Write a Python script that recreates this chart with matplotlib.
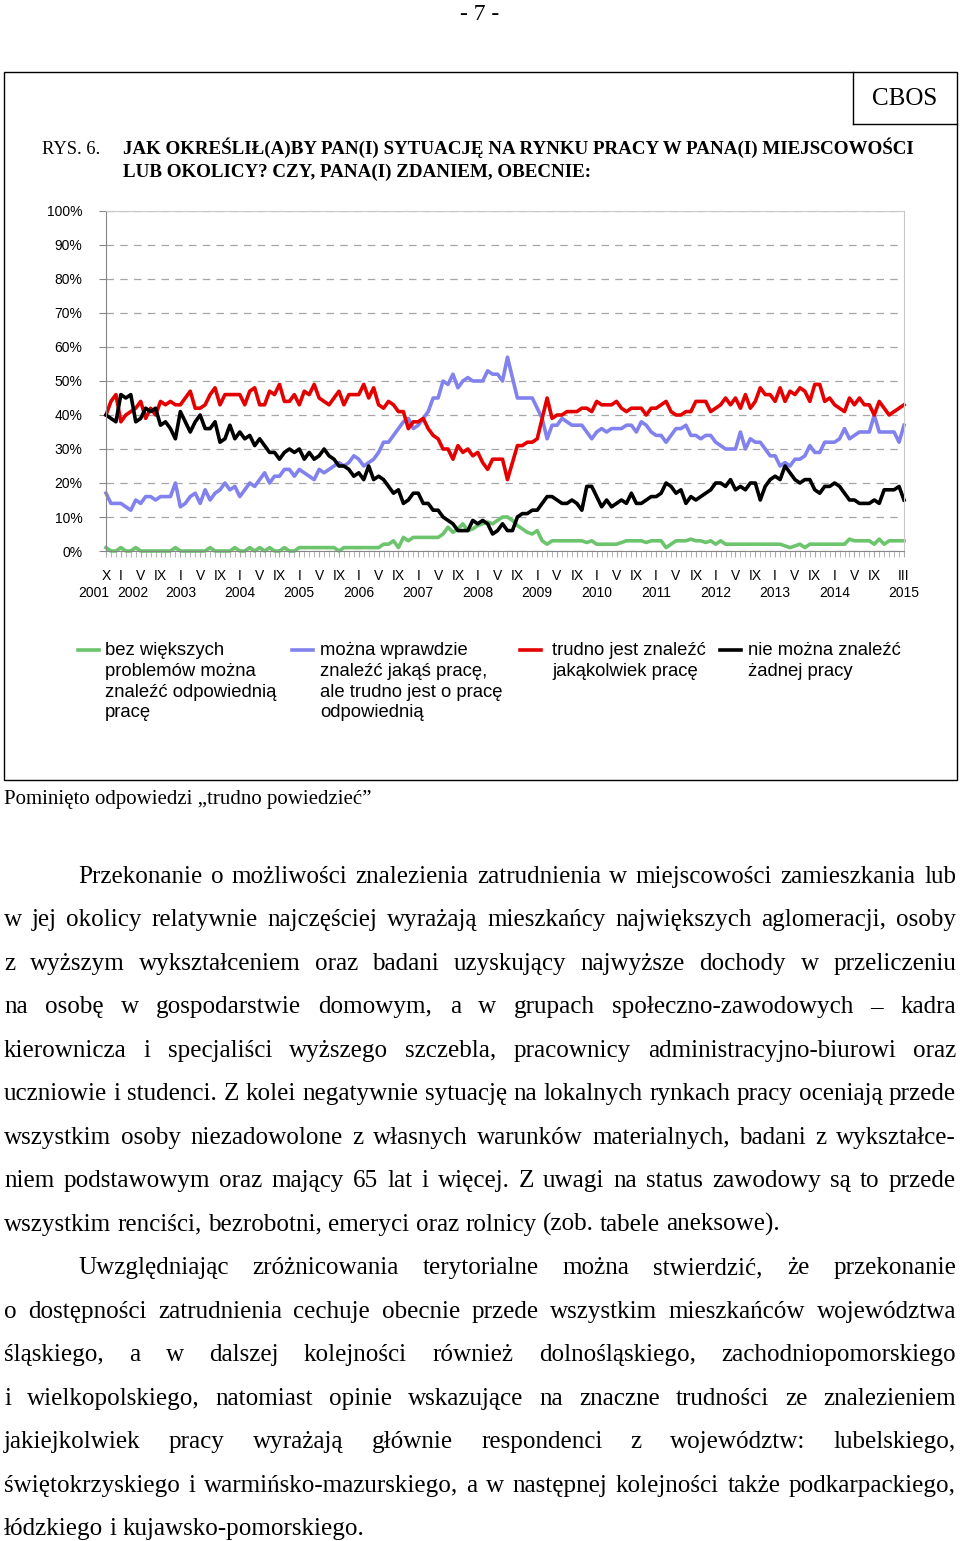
import numpy as np
import matplotlib
matplotlib.use('Agg')
import matplotlib.pyplot as plt
from matplotlib.lines import Line2D
from matplotlib.patches import Rectangle

plt.rcParams['font.family'] = ['Liberation Sans', 'DejaVu Sans']
SERIF = ['Liberation Serif', 'DejaVu Serif']

# badania comiesieczne: X 2001 ... III 2015
months = np.arange(162)

green = [1, 0, 0, 1, 0, 0, 1, 0, 0, 0, 0, 0, 0, 0, 1, 0, 0, 0, 0, 0,
         0, 1, 0, 0, 0, 0, 1, 0, 0, 1, 0, 1, 0, 1, 0, 0, 1, 0, 0, 1,
         1, 1, 1, 1, 1, 1, 1, 0, 1, 1, 1, 1,
         1, 1, 1, 1, 2, 2, 3, 1, 4, 3, 4, 4, 4, 4, 4, 4, 5, 7, 5.5, 6.5,
         8, 6, 6.5, 7.5, 8, 8.5, 8, 9, 10, 10, 9, 7.5, 6.5, 5.5, 5, 6, 3, 2, 3, 3,
         3, 3, 3, 3, 3, 2.5, 3, 2, 2, 2, 2, 2, 2.5, 3, 3, 3,
         3, 2.5, 3, 3, 3, 1, 2, 3, 3, 3, 3.5, 3, 3, 2.5, 3, 2, 3, 2, 2, 2,
         2, 2, 2, 2, 2, 2, 2, 2, 2, 1.5, 1, 1.5, 2, 1, 2, 2, 2, 2, 2, 2,
         2, 2, 3.5, 3, 3, 3, 3, 2, 3.5, 2, 3, 3, 3, 3]

blue = [17, 14, 14, 14, 13, 12, 15, 14, 16, 16, 15, 16, 16, 16, 20, 13, 14, 16, 17, 14,
        18, 15, 17, 18, 20, 18, 19, 16, 18, 20, 19, 21, 23, 20, 22, 22, 24, 24, 22, 24,
        23, 22, 21, 24, 23, 24, 25, 26, 25, 26, 28, 27, 25, 26,
        27, 29, 32, 32, 34, 36, 38, 39, 36, 37, 39, 41, 45, 45, 50, 49, 52, 48, 50, 51,
        50, 50, 50, 53, 52, 52, 50, 57, 51, 45, 45, 45, 45, 42, 39, 33, 37, 37, 39, 38,
        37, 37, 37, 35, 33, 35, 36, 35, 36, 36, 36, 37, 37, 35,
        38, 37, 35, 34, 34, 32, 34, 36, 36, 37, 34, 34, 33, 34, 34, 32, 31, 30, 30, 30,
        35, 30, 33, 32, 32, 30, 28, 28, 25, 26, 25, 27, 27, 28, 31, 29, 29, 32, 32, 32,
        33, 36, 33, 34, 35, 35, 35, 40, 35, 35, 35, 35, 32, 37]

red = [40, 44, 46, 38, 40, 41, 42, 44, 39, 42, 40, 44, 43, 44, 43, 43, 45, 47, 42, 42,
       43, 46, 48, 43, 46, 46, 46, 46, 43, 47, 48, 43, 43, 47, 46, 49, 44, 44, 46, 43,
       47, 46, 49, 45, 44, 43, 45, 47, 43, 46, 46, 46, 49, 45,
       48, 43, 42, 44, 43, 41, 41, 36, 38, 38, 39, 36, 34, 33, 30, 30, 27, 31, 29, 30,
       28, 29, 26, 24, 27, 27, 27, 21, 26, 31, 31, 32, 32, 33, 39, 45, 39, 40, 40, 41,
       41, 41, 42, 42, 41, 44, 43, 43, 43, 44, 42, 41, 42, 42,
       42, 40, 42, 42, 43, 44, 41, 40, 40, 41, 41, 44, 44, 44, 41, 42, 43, 45, 43, 45,
       42, 46, 42, 44, 48, 46, 46, 44, 48, 44, 47, 46, 48, 47, 44, 49, 49, 44, 45, 43,
       42, 41, 45, 43, 45, 43, 43, 40, 44, 42, 40, 41, 42, 43]

black = [40, 39, 38, 46, 45, 46, 38, 39, 42, 41, 42, 37, 38, 36, 33, 41, 38, 35, 38, 40,
         36, 36, 38, 32, 33, 37, 33, 35, 33, 34, 31, 33, 31, 29, 29, 27, 29, 30, 29, 30,
         27, 29, 27, 28, 30, 28, 27, 25, 25, 24, 22, 23, 21, 25,
         21, 22, 21, 19, 17, 18, 14, 15, 17, 17, 14, 14, 12, 12, 10, 9, 8, 6, 6, 6,
         9, 8, 9, 8, 5, 6, 8, 6, 6, 10, 11, 11, 12, 12, 14, 16, 16, 15, 14, 14,
         15, 14, 12, 19, 19, 16, 13, 15, 13, 14, 15, 14, 17, 14,
         14, 15, 16, 16, 17, 20, 19, 17, 18, 14, 16, 15, 16, 17, 18, 20, 20, 19, 21, 18,
         19, 18, 20, 20, 15, 19, 21, 22, 21, 25, 23, 21, 20, 21, 21, 18, 17, 19, 19, 20,
         19, 17, 15, 15, 14, 14, 14, 15, 14, 18, 18, 18, 19, 15]

month_pos = [0] + [m for k in range(13) for m in (3 + 12 * k, 7 + 12 * k, 11 + 12 * k)] + [161]
month_txt = ['X'] + ['I', 'V', 'IX'] * 13 + ['III']
year_txt = [str(r) for r in range(2001, 2016)]
year_pos = [-2.4, 5.4] + [15 + 12 * k for k in range(12)] + [161]

labels = ['bez większych\nproblemów można\nznaleźć odpowiednią\npracę',
          'można wprawdzie\nznaleźć jakąś pracę,\nale trudno jest o pracę\nodpowiednią',
          'trudno jest znaleźć\njakąkolwiek pracę',
          'nie można znaleźć\nżadnej pracy']
colors = ['#6cc46c', '#8282ee', '#e50000', '#000000']

title1 = 'JAK OKREŚLIŁ(A)BY PAN(I) SYTUACJĘ NA RYNKU PRACY W PANA(I) MIEJSCOWOŚCI'
title2 = 'LUB OKOLICY? CZY, PANA(I) ZDANIEM, OBECNIE:'
note = 'Pominięto odpowiedzi \u201etrudno powiedzieć\u201d'

paragraphs = [
    ['Przekonanie o możliwości znalezienia zatrudnienia w miejscowości zamieszkania lub',
     'w jej okolicy relatywnie najczęściej wyrażają mieszkańcy największych aglomeracji, osoby',
     'z wyższym wykształceniem oraz badani uzyskujący najwyższe dochody w przeliczeniu',
     'na osobę w gospodarstwie domowym, a w grupach społeczno-zawodowych – kadra',
     'kierownicza i specjaliści wyższego szczebla, pracownicy administracyjno-biurowi oraz',
     'uczniowie i studenci. Z kolei negatywnie sytuację na lokalnych rynkach pracy oceniają przede',
     'wszystkim osoby niezadowolone z własnych warunków materialnych, badani z wykształce-',
     'niem podstawowym oraz mający 65 lat i więcej. Z uwagi na status zawodowy są to przede',
     'wszystkim renciści, bezrobotni, emeryci oraz rolnicy (zob. tabele aneksowe).'],
    ['Uwzględniając zróżnicowania terytorialne można stwierdzić, że przekonanie',
     'o dostępności zatrudnienia cechuje obecnie przede wszystkim mieszkańców województwa',
     'śląskiego, a w dalszej kolejności również dolnośląskiego, zachodniopomorskiego',
     'i wielkopolskiego, natomiast opinie wskazujące na znaczne trudności ze znalezieniem',
     'jakiejkolwiek pracy wyrażają głównie respondenci z województw: lubelskiego,',
     'świętokrzyskiego i warmińsko-mazurskiego, a w następnej kolejności także podkarpackiego,',
     'łódzkiego i kujawsko-pomorskiego.'],
]

W, H = 960, 1541
fig = plt.figure(figsize=(W / 100, H / 100), dpi=100)
renderer = fig.canvas.get_renderer()


def fx(x):
    return x / W


def fy(y):
    return 1 - y / H


def measure(s, size, **kw):
    t = fig.text(0, 0, s, fontsize=size, **kw)
    w = t.get_window_extent(renderer).width
    t.remove()
    return w


# --- wykres ---
ax = fig.add_axes([fx(106), fy(551), (904 - 106) / W, (551 - 211) / H])
for vals, c in zip([green, blue, red, black], colors):
    ax.plot(months, vals, color=c, lw=2.6, clip_on=False)

ax.set_xlim(0, 161)
ax.set_ylim(0, 100)
ax.set_yticks(range(0, 101, 10), [f'{v}%' for v in range(0, 101, 10)])
ax.set_xticks(month_pos, month_txt)
ax.set_xticks(months, minor=True)
ax.tick_params(axis='y', length=5, color='#888888', pad=12, labelsize=10)
ax.tick_params(axis='x', which='both', length=4.5, color='#aaaaaa', pad=8.5, labelsize=10)
ax.grid(axis='y', color='#a6a6a6', linestyle=(0, (6, 5)), lw=0.9)
ax.set_axisbelow(True)
for s in ['top', 'right']:
    ax.spines[s].set_color('#c8c8c8')
for s in ['left', 'bottom']:
    ax.spines[s].set_color('#868686')
for p, t in zip(year_pos, year_txt):
    ax.text(p, -0.1235, t, transform=ax.get_xaxis_transform(), ha='center', va='center', fontsize=10)

# --- legenda ---
for x0, tx, lab, c in zip([78, 292, 520, 720], [105, 320, 552, 748], labels, colors):
    fig.add_artist(Line2D([fx(x0), fx(x0 + 21)], [fy(650), fy(650)], transform=fig.transFigure,
                          color=c, lw=2.6))
    fig.text(fx(tx), fy(642), lab, fontsize=13.3, va='top', ha='left', linespacing=1.29)

# --- ramka i naglowki ---
fig.add_artist(Rectangle((fx(4), fy(780)), (957 - 4) / W, (780 - 72) / H, fill=False,
                         ec='black', lw=1, transform=fig.transFigure))
fig.add_artist(Line2D([fx(853), fx(853)], [fy(72), fy(124)], transform=fig.transFigure, color='black', lw=1))
fig.add_artist(Line2D([fx(853), fx(957)], [fy(124), fy(124)], transform=fig.transFigure, color='black', lw=1))
fig.text(fx(905), fy(105), 'CBOS', family=SERIF, fontsize=18, ha='center', va='baseline')
fig.text(fx(480), fy(20), '- 7 -', family=SERIF, fontsize=17, ha='center', va='baseline')
fig.text(fx(42), fy(154), 'RYS. 6.', family=SERIF, fontsize=13.3, ha='left', va='baseline')

tsize = 13 * 789 / measure(title1, 13, family=SERIF, weight='bold')
fig.text(fx(123), fy(154), title1, family=SERIF, weight='bold', fontsize=tsize, va='baseline')
fig.text(fx(123), fy(177), title2, family=SERIF, weight='bold', fontsize=tsize, va='baseline')

nsize = 15 * 368 / measure(note, 15, family=SERIF)
fig.text(fx(4), fy(804), note, family=SERIF, fontsize=nsize, va='baseline')

# --- tekst wyjustowany ---
bsize = 18 * 778 / measure(paragraphs[0][-1], 18, family=SERIF)
space = bsize * 0.25 * 100 / 72


def place_line(line, y, x0, x1, justify):
    words = line.split(' ')
    ws = [measure(w, bsize, family=SERIF) for w in words]
    gap = (x1 - x0 - sum(ws)) / (len(words) - 1) if justify and len(words) > 1 else space
    x = x0
    for w, wd in zip(words, ws):
        fig.text(fx(x), fy(y), w, family=SERIF, fontsize=bsize, va='baseline', ha='left')
        x += wd + gap


row = 0
for para in paragraphs:
    for i, line in enumerate(para):
        x0 = 78 if i == 0 else 4
        place_line(line, 883 + 43.47 * row, x0, 956, justify=(i < len(para) - 1))
        row += 1

fig.savefig('out.png', dpi=100)
